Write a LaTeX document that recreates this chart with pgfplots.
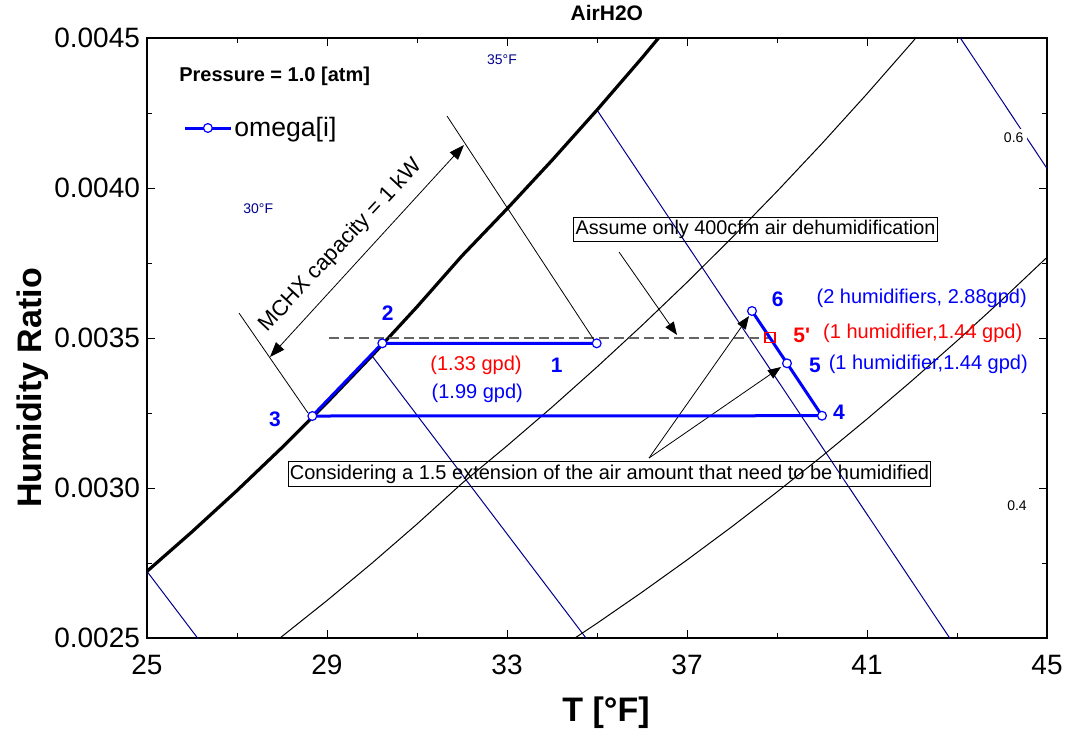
\documentclass[border=0pt]{standalone}
\usepackage{fontspec}
\setmainfont{Liberation Sans}
\usepackage{pgfplots}
\pgfplotsset{compat=1.18}
\usetikzlibrary{arrows.meta}
\definecolor{navyline}{RGB}{0,0,140}
\definecolor{pblue}{RGB}{0,0,255}
\definecolor{pred}{RGB}{255,0,0}
\definecolor{dgray}{RGB}{100,100,100}
\begin{document}
\begin{tikzpicture}
\begin{axis}[
  at={(0,0)}, anchor=south west,
  width=450pt, height=300pt, scale only axis,
  xmin=25, xmax=45, ymin=0.0025, ymax=0.0045,
  xtick={25,29,33,37,41,45}, minor xtick={27,31,35,39,43},
  ytick={0.0025,0.003,0.0035,0.004,0.0045},
  minor ytick={0.00275,0.00325,0.00375,0.00425},
  scaled y ticks=false,
  yticklabel style={/pgf/number format/.cd, fixed, fixed zerofill, precision=4, assume math mode=true},
  xticklabel style={/pgf/number format/assume math mode=true, yshift=-5pt},
  tick label style={font=\fontsize{14}{16}\selectfont},
  axis line style={line width=1.3pt},
  major tick length=4pt, minor tick length=2.5pt,
  tick style={line width=0.5pt, black},
  xlabel={T [°F]}, ylabel={Humidity Ratio},
  label style={font=\bfseries\fontsize{17}{19}\selectfont},
  xlabel style={at={(axis description cs:0.51,-0.125)}, anchor=center},
  ylabel style={at={(axis description cs:-0.1267,0.4167)}, anchor=center},
  title={AirH2O},
  title style={font=\bfseries\fontsize{10.5}{12}\selectfont, at={(axis description cs:0.511,1.0217)}, anchor=center},
  legend style={at={(axis description cs:0.04,0.85)}, anchor=west, draw=none, fill=none, inner sep=0pt,
    font=\fontsize{13.3}{15}\selectfont, nodes={inner sep=1pt}},
  legend image code/.code={\draw[mark repeat=2,mark phase=2,#1] plot coordinates {(0pt,0pt) (11.5pt,0pt) (23pt,0pt)};},
]
% wet-bulb lines
\addplot[navyline, line width=0.5pt, forget plot] coordinates {(25,0.0027221)(27,0.0023267)};
\addplot[navyline, line width=0.5pt, forget plot] coordinates {(30,0.0034406)(35,0.0024516)};
\addplot[navyline, line width=0.5pt, forget plot] coordinates {(35,0.0042600)(43,0.0024634)};
\addplot[navyline, line width=0.5pt, forget plot] coordinates {(40,0.0051942)(45,0.0040651)};
% relative humidity 0.8
\addplot[black, line width=0.5pt, forget plot] coordinates {(27,0.0023909)(28,0.0025053)(29,0.0026249)(30,0.0027496)(31,0.0028798)(32,0.0030156)(33,0.0031405)(34,0.0032695)(35,0.0034034)(36,0.0035420)(37,0.0036856)(38,0.0038345)(39,0.0039887)(40,0.0041484)(41,0.0043140)(42,0.0044852)(43,0.0046624)};
% relative humidity 0.6
\addplot[black, line width=0.5pt, forget plot] coordinates {(33,0.0023523)(34,0.0024489)(35,0.0025491)(36,0.0026527)(37,0.0027601)(38,0.0028714)(39,0.0029868)(40,0.0031061)(41,0.0032299)(42,0.0033579)(43,0.0034903)(44,0.0036273)(45,0.0037691)};
% saturation
\addplot[black, line width=1.6pt, forget plot] coordinates {(25,0.0027223)(26,0.0028540)(27,0.0029915)(28,0.0031348)(29,0.0032846)(30,0.0034409)(31,0.0036039)(32,0.0037740)(33,0.0039305)(34,0.0040923)(35,0.0042600)(36,0.0044337)(37,0.0046139)};
% dashed 0.0035
\addplot[dgray, line width=0.6pt, dash pattern=on 5pt off 2.5pt, forget plot] coordinates {(29.044,0.0035)(38.844,0.0035)};
% annotations
\draw[line width=0.4pt] (axis cs:27.044,0.0035833) -- (axis cs:28.578,0.00325);
\draw[line width=0.4pt] (axis cs:31.667,0.00424) -- (axis cs:34.978,0.0034833);
\draw[line width=0.4pt, {Triangle[length=7.5pt,width=5.5pt]}-{Triangle[length=7.5pt,width=5.5pt]}] (axis cs:27.733,0.0034367) -- (axis cs:32.044,0.0041433);
\node[rotate=47, font=\fontsize{11}{13}\selectfont] at (axis cs:29.307,0.0038073) {MCHX capacity = 1 kW};
\node[draw, line width=0.7pt, inner xsep=1pt, inner ysep=1.5pt, font=\fontsize{9.9}{11}\selectfont] at (axis cs:38.522,0.0038617) {Assume only 400cfm air dehumidification};
\draw[line width=0.4pt, -{Triangle[length=6.5pt,width=5pt]}] (axis cs:35.489,0.0037867) -- (axis cs:36.778,0.00351);
\node[draw, line width=0.7pt, inner xsep=0.6pt, inner ysep=1.5pt, font=\fontsize{10}{11}\selectfont] at (axis cs:35.278,0.0030467) {Considering a 1.5 extension of the air amount that need to be humidified};
\draw[line width=0.4pt, -{Triangle[length=6.5pt,width=5pt]}] (axis cs:36.156,0.0031) -- (axis cs:38.378,0.0035733);
\draw[line width=0.4pt, -{Triangle[length=6.5pt,width=5pt]}] (axis cs:36.156,0.0031) -- (axis cs:39.089,0.0034033);
% data
\addplot[pblue, line width=1.5pt, mark=*, mark size=2.2pt, mark options={fill=white, draw=pblue, line width=0.6pt}] coordinates {(34.993,0.0034823)(30.229,0.0034823)(28.674,0.00324)(40.0,0.003241)(39.222,0.0034157)(38.444,0.00359)};
\addlegendentry{omega[i]}
\addplot[pred, only marks, mark=square, mark size=2.5pt, mark options={line width=0.6pt}, forget plot] coordinates {(38.844,0.003501)};
% labels
\node[navyline, font=\fontsize{7}{8}\selectfont] at (axis cs:32.889,0.0044267) {35°F};
\node[navyline, font=\fontsize{7}{8}\selectfont] at (axis cs:27.473,0.00393) {30°F};
\node[fill=white, inner sep=2pt, font=\fontsize{7}{8}\selectfont] at (axis cs:44.26,0.0041667) {0.6};
\node[font=\fontsize{7}{8}\selectfont] at (axis cs:44.333,0.0029417) {0.4};
\node[anchor=west, font=\bfseries\fontsize{10}{12}\selectfont] at (axis cs:25.562,0.004371) {Pressure = 1.0 [atm]};
\node[pblue, font=\bfseries\fontsize{10.5}{12}\selectfont] at (axis cs:34.104,0.00341) {1};
\node[pblue, font=\bfseries\fontsize{10.5}{12}\selectfont] at (axis cs:30.349,0.0035823) {2};
\node[pblue, font=\bfseries\fontsize{10.5}{12}\selectfont] at (axis cs:27.844,0.003229) {3};
\node[pblue, font=\bfseries\fontsize{10.5}{12}\selectfont] at (axis cs:40.378,0.0032523) {4};
\node[pblue, font=\bfseries\fontsize{10.5}{12}\selectfont] at (axis cs:39.844,0.00341) {5};
\node[pblue, font=\bfseries\fontsize{10.5}{12}\selectfont] at (axis cs:39.016,0.003629) {6};
\node[pred, font=\bfseries\fontsize{10.5}{12}\selectfont\addfontfeatures{Ligatures=TeXOff}] at (axis cs:39.549,0.0035077) {5'};
\node[pred, font=\fontsize{10}{12}\selectfont] at (axis cs:32.311,0.00341) {(1.33 gpd)};
\node[pblue, font=\fontsize{10}{12}\selectfont] at (axis cs:32.34,0.0033157) {(1.99 gpd)};
\node[pblue, font=\fontsize{10}{12}\selectfont] at (axis cs:42.216,0.0036323) {(2 humidifiers, 2.88gpd)};
\node[pred, font=\fontsize{10}{12}\selectfont] at (axis cs:42.238,0.0035157) {(1 humidifier,1.44 gpd)};
\node[pblue, font=\fontsize{10}{12}\selectfont] at (axis cs:42.362,0.0034133) {(1 humidifier,1.44 gpd)};
\end{axis}
\pgfresetboundingbox
\path (-73.5pt,-49pt) rectangle (461pt,319pt);
\end{tikzpicture}
\end{document}
